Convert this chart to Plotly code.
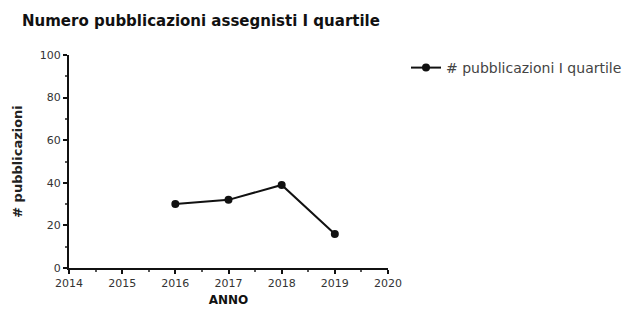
import plotly.graph_objects as go

years = [2016, 2017, 2018, 2019]
pubblicazioni = [30, 32, 39, 16]
x_ticks = [2014, 2015, 2016, 2017, 2018, 2019, 2020]
y_ticks = [0, 20, 40, 60, 80, 100]

fig = go.Figure()
fig.add_trace(go.Scatter(
    x=years, y=pubblicazioni, mode="lines+markers",
    name="# pubblicazioni I quartile",
    line=dict(color="#111111", width=2),
    marker=dict(symbol="circle", size=8, color="#111111"),
))

fig.update_layout(
    width=640, height=309,
    margin=dict(l=69, r=252, t=55, b=41),
    paper_bgcolor="white", plot_bgcolor="white",
    font=dict(family="DejaVu Sans, Verdana, sans-serif", color="#222222", size=11),
    title=dict(text="<b>Numero pubblicazioni assegnisti I quartile</b>",
               x=22 / 640, xanchor="left", y=1 - 21 / 309, yanchor="middle",
               font=dict(size=15, color="#111111")),
    showlegend=True,
    legend=dict(x=(406 - 69) / 319, y=1 - (68 - 55) / 213, xanchor="left", yanchor="middle",
                itemwidth=30,
                font=dict(size=14, color="#444444"), bgcolor="rgba(0,0,0,0)"),
)
fig.update_xaxes(
    range=[2014, 2020], tickvals=x_ticks, ticktext=[str(v) for v in x_ticks],
    automargin=False,
    showline=True, linecolor="#111111", linewidth=2, showgrid=False, zeroline=False,
    ticks="outside", ticklen=4, tickwidth=1.5, tickcolor="#111111",
    minor=dict(ticks="outside", ticklen=2, tickcolor="#555555", dtick=0.5),
    tickfont=dict(size=11, color="#333333"),
    title=dict(text="<b>ANNO</b>", standoff=6, font=dict(size=12, color="#111111")),
)
fig.update_yaxes(
    range=[0, 100], tickvals=y_ticks,
    automargin=False,
    showline=True, linecolor="#111111", linewidth=2, showgrid=False, zeroline=False,
    ticks="outside", ticklen=4, tickwidth=1.5, tickcolor="#111111",
    minor=dict(ticks="outside", ticklen=2, tickcolor="#555555", dtick=10),
    tickfont=dict(size=11, color="#333333"),
    title=dict(text="<b># pubblicazioni</b>", standoff=14, font=dict(size=13, color="#222222")),
)

fig.write_html("out.html", config={"displayModeBar": False},
               post_script="document.body.style.margin='0';")
